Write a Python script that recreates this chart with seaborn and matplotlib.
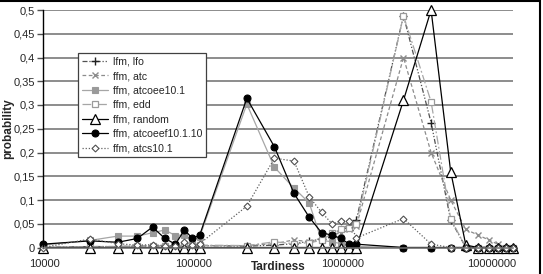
import matplotlib
matplotlib.use('Agg')
import matplotlib.pyplot as plt
import matplotlib.transforms as mtransforms
from matplotlib.patches import Rectangle
from matplotlib.ticker import FixedLocator, NullLocator
import seaborn as sns

# x values: 10k..100k, 200k..1M, 2M..10M
tardiness = [10000, 20000, 30000, 40000, 50000, 60000, 70000, 80000, 90000, 100000,
             200000, 300000, 400000, 500000, 600000, 700000, 800000, 900000, 1000000,
             2000000, 3000000, 4000000, 5000000, 6000000, 7000000, 8000000, 9000000, 10000000]

lfm_lfo = [0, 0.002, 0.002, 0.003, 0.003, 0.003, 0.003, 0.004, 0.003, 0.004,
           0.003, 0.005, 0.008, 0.013, 0.018, 0.022, 0.035, 0.045, 0.058,
           0.488, 0.263, 0.058, 0, 0, 0, 0, 0, 0]
ffm_atc = [0, 0.001, 0.002, 0.003, 0.004, 0.003, 0.003, 0.004, 0.003, 0.004,
           0.004, 0.008, 0.016, 0.012, 0.020, 0.028, 0.030, 0.040, 0.045,
           0.400, 0.200, 0.100, 0.038, 0.026, 0.016, 0.007, 0, 0]
ffm_atcoee = [0.005, 0.015, 0.024, 0.024, 0.031, 0.037, 0.025, 0.027, 0.016, 0.022,
              0.302, 0.169, 0.125, 0.094, 0.015, 0.012, 0.008, 0.003, 0.002,
              0, 0, 0, 0, 0, 0, 0, 0, 0]
ffm_edd = [0, 0.002, 0.002, 0.003, 0.003, 0.004, 0.003, 0.004, 0.004, 0.005,
           0.004, 0.012, 0.008, 0.010, 0.015, 0.030, 0.038, 0.042, 0.050,
           0.488, 0.307, 0.061, 0, 0, 0, 0, 0, 0]
ffm_random = [0, 0, 0, 0, 0, 0, 0, 0, 0, 0,
              0, 0, 0, 0, 0, 0, 0, 0, 0,
              0.310, 0.500, 0.160, 0.005, 0, 0, 0, 0, 0]
ffm_atcoeef = [0.007, 0.014, 0.011, 0.019, 0.043, 0.019, 0.007, 0.037, 0.019, 0.026,
               0.314, 0.212, 0.114, 0.064, 0.031, 0.026, 0.019, 0.007, 0.007,
               0, 0, 0, 0, 0, 0, 0, 0, 0]
ffm_atcs = [0, 0.018, 0.008, 0.005, 0.006, 0.004, 0.003, 0.012, 0.005, 0.008,
            0.087, 0.188, 0.182, 0.107, 0.074, 0.050, 0.056, 0.056, 0.020,
            0.061, 0.007, 0, 0, 0, 0, 0, 0, 0]

series_names = ['lfm, lfo', 'ffm, atc', 'ffm, atcoee10.1', 'ffm, edd',
                'ffm, random', 'ffm, atcoeef10.1.10', 'ffm, atcs10.1']
series_values = [lfm_lfo, ffm_atc, ffm_atcoee, ffm_edd, ffm_random, ffm_atcoeef, ffm_atcs]

y_ticks = [0, 0.05, 0.1, 0.15, 0.2, 0.25, 0.3, 0.35, 0.4, 0.45, 0.5]
y_tick_labels = ['0', '0,05', '0,1', '0,15', '0,2', '0,25', '0,3', '0,35', '0,4', '0,45', '0,5']
x_ticks = [10000, 100000, 1000000, 10000000]
x_tick_labels = ['10000', '100000', '1000000', '10000000']

# line / marker styles per series
styles = [
    dict(color='#505050', dashes=(4, 1.5, 1, 1.5, 1, 1.5), marker='+', markersize=6,
         markerfacecolor='none', markeredgecolor='#202020', markeredgewidth=1.0),
    dict(color='#8c8c8c', dashes=(3, 2), marker='x', markersize=5,
         markerfacecolor='none', markeredgecolor='#8c8c8c', markeredgewidth=1.0),
    dict(color='#a6a6a6', linestyle='-', marker='s', markersize=4,
         markerfacecolor='#9a9a9a', markeredgecolor='#9a9a9a', markeredgewidth=0.8),
    dict(color='#a6a6a6', dashes=(7, 2, 1.5, 2), marker='s', markersize=4.5,
         markerfacecolor='white', markeredgecolor='#9a9a9a', markeredgewidth=0.9),
    dict(color='black', linestyle='-', marker='^', markersize=7,
         markerfacecolor='white', markeredgecolor='black', markeredgewidth=0.9),
    dict(color='black', linestyle='-', marker='o', markersize=5,
         markerfacecolor='black', markeredgecolor='black', markeredgewidth=0.8),
    dict(color='#606060', dashes=(1, 1.5), marker='D', markersize=3.5,
         markerfacecolor='white', markeredgecolor='#505050', markeredgewidth=0.8),
]

sns.set_style('white')
plt.rcParams['font.family'] = ['Liberation Sans', 'DejaVu Sans']

fig = plt.figure(figsize=(5.43, 2.74), dpi=100)
ax = fig.add_axes([43 / 543, 1 - 247.5 / 274, 470 / 543, 237.5 / 274])

for name, vals, st in zip(series_names, series_values, styles):
    sns.lineplot(x=tardiness, y=vals, ax=ax, label=name, linewidth=0.9,
                 errorbar=None, clip_on=False, **st)

ax.set_xscale('log')
ax.set_xlim(10000, 10000000)
ax.set_ylim(0, 0.5)
ax.xaxis.set_major_locator(FixedLocator(x_ticks))
ax.xaxis.set_minor_locator(NullLocator())
ax.set_xticklabels(x_tick_labels)
ax.yaxis.set_major_locator(FixedLocator(y_ticks))
ax.set_yticklabels(y_tick_labels)

ax.grid(axis='y', color='#6e6e6e', linewidth=1.1)
ax.grid(axis='x', visible=False)
ax.set_axisbelow(True)
for side in ['top', 'right']:
    ax.spines[side].set_visible(False)
ax.spines['left'].set_color('black')
ax.spines['left'].set_linewidth(1.0)
ax.spines['bottom'].set_color('#6e6e6e')
ax.spines['bottom'].set_linewidth(1.1)
ax.tick_params(axis='y', length=4, width=1, color='#505050', pad=2, labelsize=8, direction='out', left=True)
ax.tick_params(axis='x', length=3, width=1, color='#505050', pad=5, labelsize=8, direction='out', bottom=True)

# Excel-ish placement of the x tick labels
offsets_px = [1, -6, -14, -21]
for lab, dx in zip(ax.get_xticklabels(), offsets_px):
    lab.set_transform(lab.get_transform() + mtransforms.ScaledTranslation(dx / 100, 0, fig.dpi_scale_trans))

ax.set_xlabel('Tardiness', fontsize=8.5, fontweight='bold')
ax.xaxis.label.set_va('center')
ax.xaxis.set_label_coords(0.5, -0.082)
ax.set_ylabel('probability', fontsize=8.5, fontweight='bold')
ax.yaxis.label.set_va('center')
ax.yaxis.set_label_coords(-0.074, 0.5)

leg = ax.legend(loc='upper left', bbox_to_anchor=(0.0745, 0.819), borderaxespad=0,
                fontsize=7.6, frameon=True, fancybox=False, framealpha=1,
                edgecolor='#404040', handlelength=2.5, handletextpad=0.5,
                labelspacing=0.42, borderpad=0.35)
leg.get_frame().set_linewidth(0.9)

fig.patches.append(Rectangle((-0.01, -0.01), 540 / 543 + 0.01, 1.005, transform=fig.transFigure,
                             fill=False, edgecolor='black', linewidth=1.5))

fig.savefig('out.png', dpi=100)
